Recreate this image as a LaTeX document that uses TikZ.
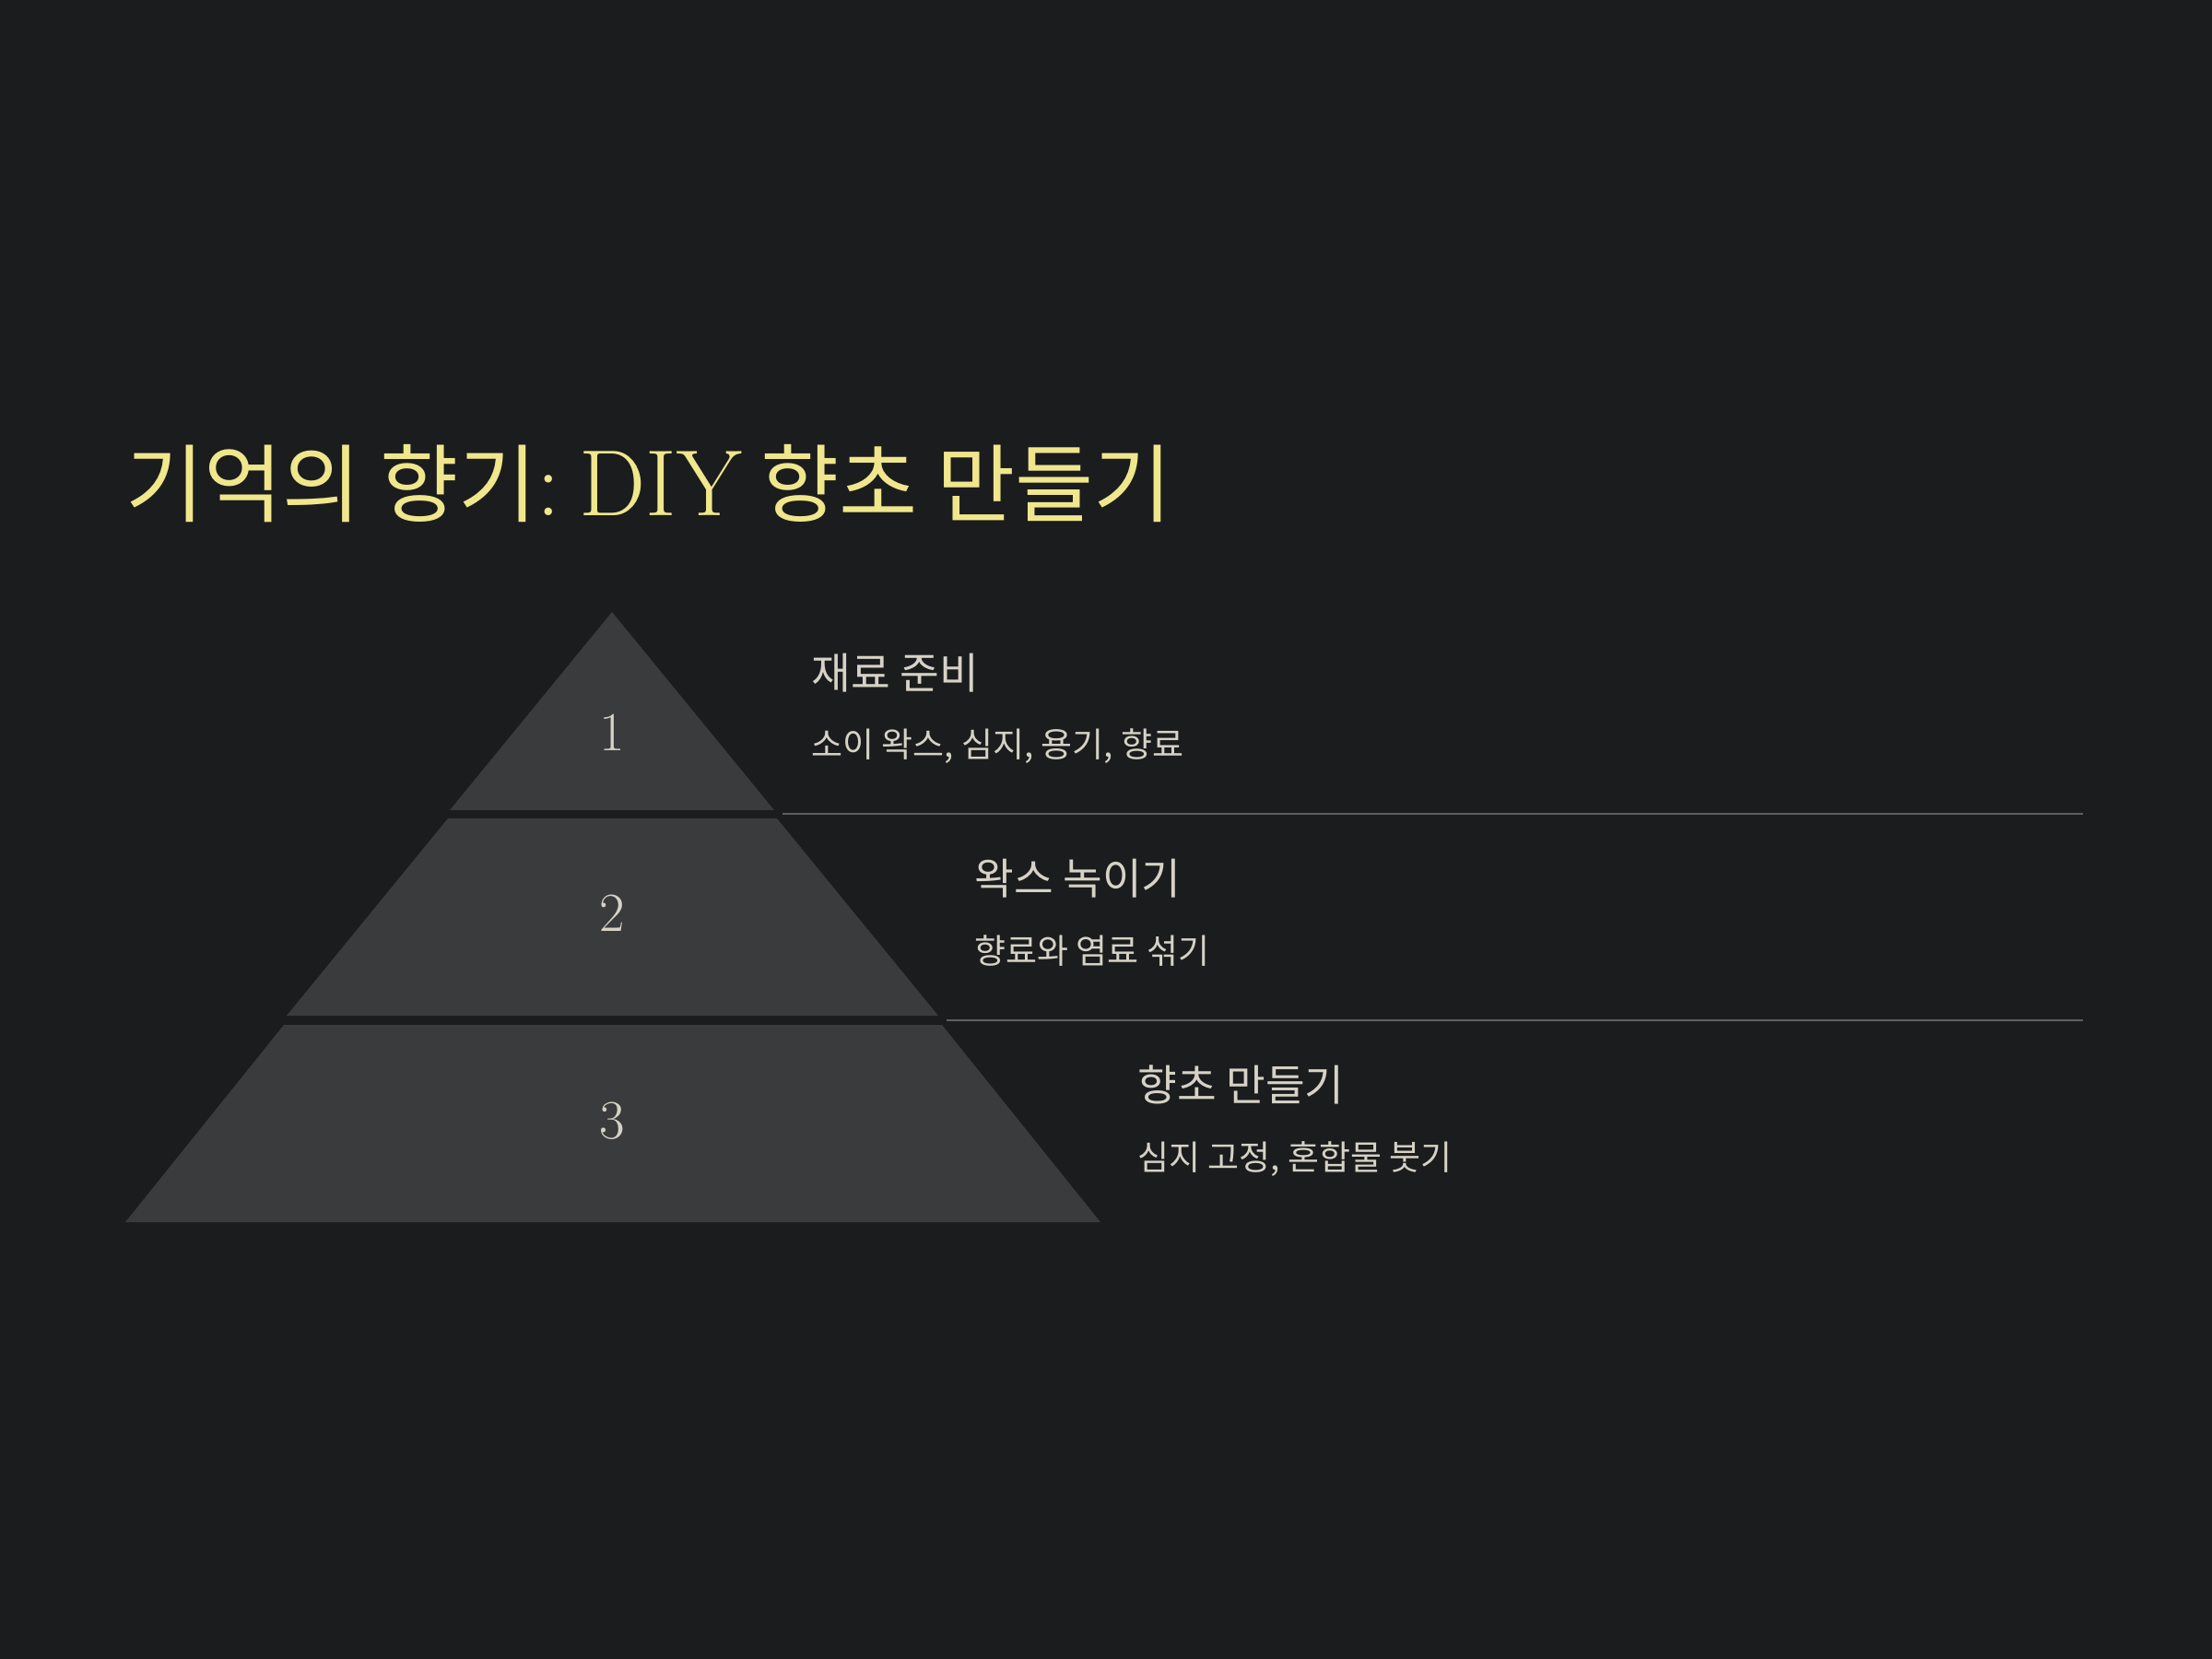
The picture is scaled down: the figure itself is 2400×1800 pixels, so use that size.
\documentclass[tikz,border=0pt]{standalone}
\usepackage{fontspec}
\newfontfamily\krfont{Noto Sans CJK KR}
\usetikzlibrary{positioning}

\definecolor{bgdark}{HTML}{1B1C1E}
\definecolor{tierfill}{HTML}{3A3B3D}
\definecolor{titleyellow}{HTML}{F0E68C}
\definecolor{softtext}{HTML}{D6D2C6}
\definecolor{ruleline}{HTML}{5E5F61}

\begin{document}
\begin{tikzpicture}[
    x=0.01cm, y=-0.01cm,
    tier/.style={fill=tierfill},
    num/.style={text=softtext, font=\fontsize{17pt}{19pt}\selectfont, inner sep=0pt},
    head/.style={anchor=base west, inner sep=0pt, text=softtext, font=\krfont\fontsize{13.2pt}{15pt}\selectfont},
    desc/.style={anchor=base west, inner sep=0pt, text=softtext, font=\krfont\fontsize{10.5pt}{12pt}\selectfont},
    sep/.style={draw=ruleline, line width=0.6pt},
]
% background
\fill[bgdark] (0,0) rectangle (2400,1800);

% title
\node[anchor=base west, inner sep=0pt, text=titleyellow, font=\krfont\fontsize{26.3pt}{30pt}\selectfont] (title) at (136,559)
    {기억의 향기{\rmfamily\fontsize{29pt}{32pt}\selectfont:\kern0.2em DIY} 향초 만들기};

% pyramid tiers
\fill[tier] (664,664) -- (840,879) -- (488,879) -- cycle;
\fill[tier] (486,888) -- (843,888) -- (1018,1102) -- (311,1102) -- cycle;
\fill[tier] (308,1112) -- (1022,1112) -- (1194,1326) -- (136,1326) -- cycle;

\node[num] (n1) at (664,795) {1};
\node[num] (n2) at (664,991) {2};
\node[num] (n3) at (664,1216) {3};

% step texts
\node[head] (h1) at (880,747) {재료 준비};
\node[desc] (d1) at (880,821) {소이 왁스, 심지, 용기, 향료};

\node[head] (h2) at (1057,970) {왁스 녹이기};
\node[desc] (d2) at (1057,1045) {향료와 염료 섞기};

\node[head] (h3) at (1234,1194) {향초 만들기};
\node[desc] (d3) at (1234,1269) {심지 고정, 혼합물 붓기};

% separators
\coordinate (s1a) at (849,883);
\coordinate (s1b) at (2260,883);
\coordinate (s2a) at (1027,1107);
\coordinate (s2b) at (2260,1107);
\draw[sep] (s1a) -- (s1b);
\draw[sep] (s2a) -- (s2b);
\end{tikzpicture}
\end{document}
